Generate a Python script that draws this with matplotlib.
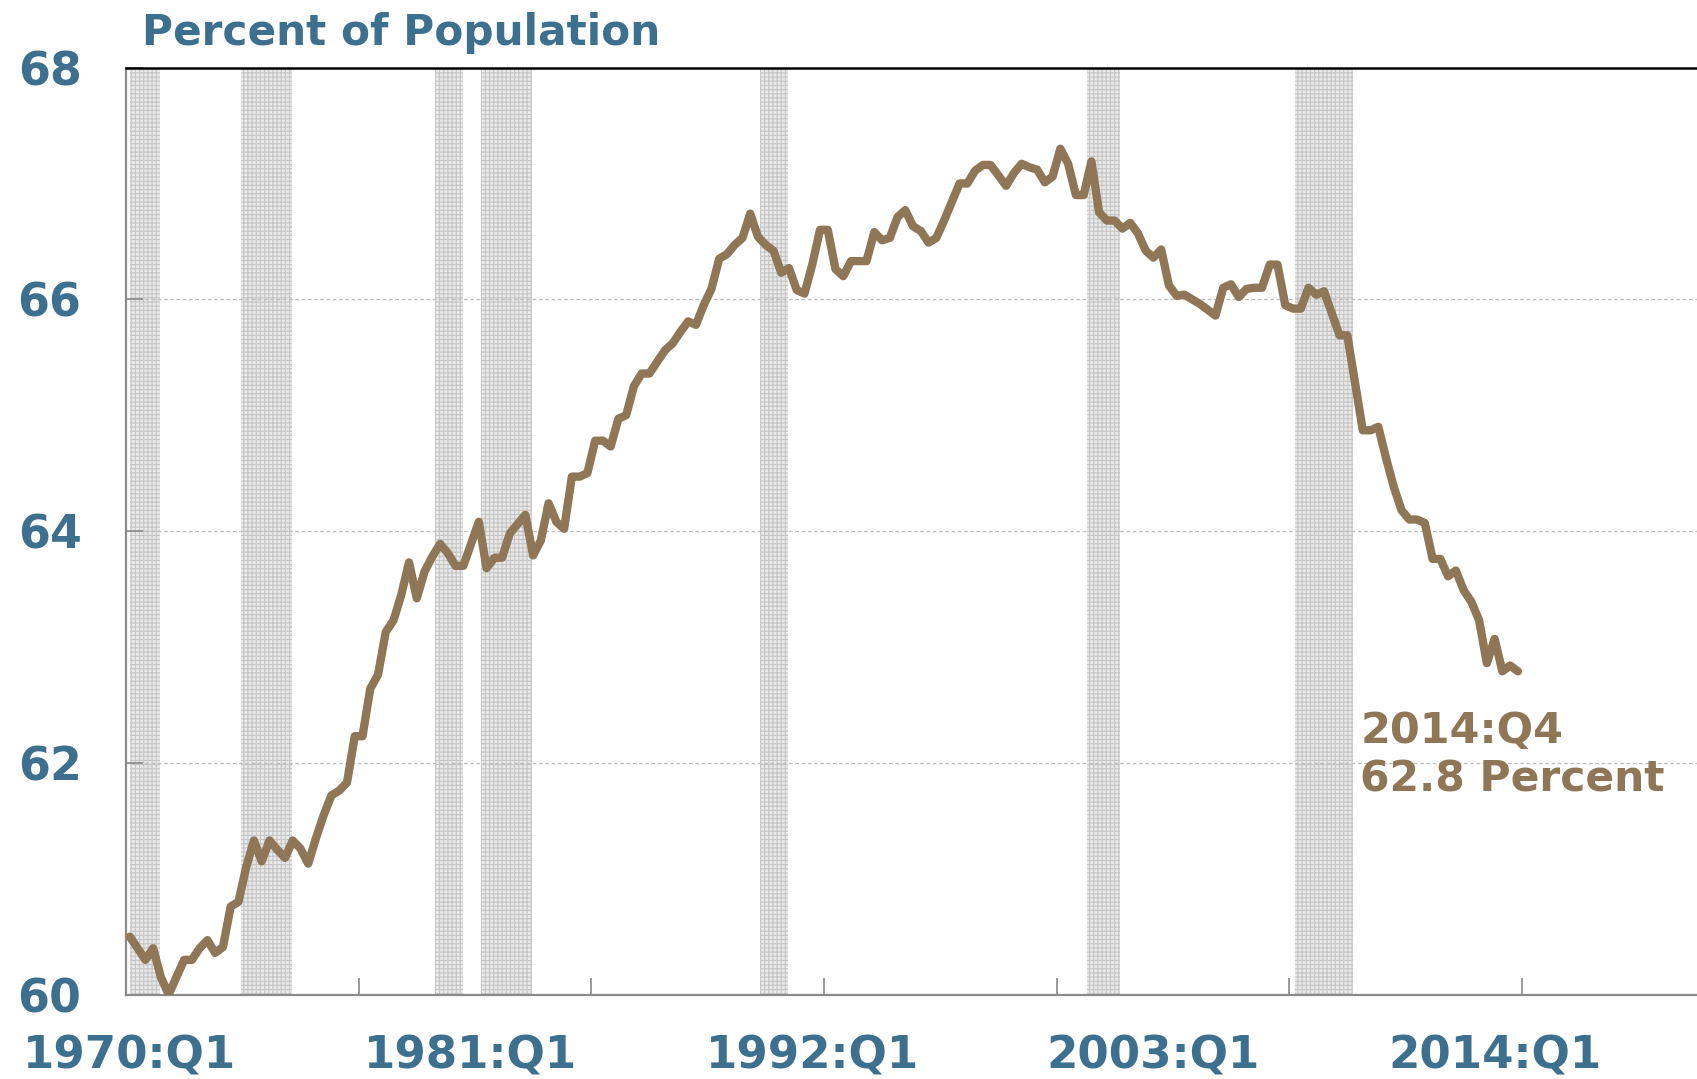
import numpy as np
import matplotlib
matplotlib.use("Agg")
import matplotlib.pyplot as plt

# labour force participation rate, quarterly, 1970:Q1 - 2014:Q4
quarters = [f"{y}:Q{q}" for y in range(1970, 2015) for q in range(1, 5)]
lfpr = [
    60.50, 60.40, 60.30, 60.40, 60.15, 60.00, 60.15, 60.30, 60.30, 60.40,
    60.47, 60.36, 60.41, 60.76, 60.80, 61.10, 61.33, 61.15, 61.33, 61.25,
    61.18, 61.33, 61.26, 61.13, 61.35, 61.55, 61.72, 61.76, 61.83, 62.23,
    62.23, 62.64, 62.76, 63.13, 63.23, 63.45, 63.73, 63.42, 63.65, 63.78,
    63.89, 63.81, 63.70, 63.70, 63.89, 64.08, 63.68, 63.77, 63.77, 63.98,
    64.06, 64.14, 63.79, 63.92, 64.24, 64.08, 64.02, 64.47, 64.47, 64.50,
    64.78, 64.78, 64.73, 64.97, 65.00, 65.25, 65.36, 65.36, 65.46, 65.56,
    65.62, 65.72, 65.81, 65.78, 65.95, 66.09, 66.35, 66.39, 66.47, 66.53,
    66.74, 66.54, 66.47, 66.42, 66.23, 66.27, 66.08, 66.05, 66.30, 66.60,
    66.60, 66.26, 66.20, 66.33, 66.33, 66.33, 66.58, 66.51, 66.53, 66.71,
    66.77, 66.63, 66.59, 66.49, 66.53, 66.68, 66.84, 67.00, 67.00, 67.11,
    67.16, 67.16, 67.07, 66.98, 67.09, 67.17, 67.14, 67.12, 67.01, 67.06,
    67.30, 67.17, 66.90, 66.90, 67.19, 66.75, 66.68, 66.68, 66.61, 66.66,
    66.57, 66.42, 66.36, 66.43, 66.12, 66.03, 66.04, 66.00, 65.96, 65.91,
    65.86, 66.10, 66.13, 66.02, 66.09, 66.10, 66.10, 66.30, 66.30, 65.95,
    65.92, 65.92, 66.10, 66.04, 66.07, 65.88, 65.69, 65.69, 65.28, 64.87,
    64.87, 64.90, 64.63, 64.38, 64.18, 64.10, 64.10, 64.07, 63.76, 63.76,
    63.61, 63.66, 63.49, 63.39, 63.23, 62.86, 63.07, 62.79, 62.84, 62.79,
]

# shaded recession bands, in quarters since 1970:Q1
recessions = [(0.0, 3.9), (14.3, 20.9), (39.3, 42.9), (45.3, 51.9),
              (81.3, 84.9), (123.4, 127.7), (150.2, 157.8)]

label_quarters = ["1970:Q1", "1981:Q1", "1992:Q1", "2003:Q1", "2014:Q1"]
y_ticks = [60, 62, 64, 66, 68]

blue = "#3d6f8f"
brown = "#8e7656"
grey = "#8a8a8a"

plt.rcParams["font.family"] = "DejaVu Sans"
plt.rcParams["font.weight"] = "bold"
plt.rcParams["hatch.linewidth"] = 0.8

W, H = 1697, 1079
fig = plt.figure(figsize=(W / 100, H / 100), dpi=100)
ax = fig.add_axes([126 / W, 1 - 994.6 / H, 1 - 126 / W, (994.6 - 67.6) / H])

x = np.arange(len(lfpr))

for a, b in recessions:
    ax.axvspan(a, b, facecolor="#e9e9e9", edgecolor="#c6c6c6", hatch="++++",
               lw=0, zorder=0.5)

ax.plot(x, lfpr, color=brown, lw=6, solid_joinstyle="round",
        solid_capstyle="round", zorder=3)

ax.set_xlim(-0.5, 202.1)
ax.set_ylim(60, 68)

# tick marks every 30 quarters, labels every 11 years
ax.set_xticks(np.arange(-0.5, 200, 30))
ax.set_xticklabels([])
ax.set_xticks([quarters.index(q) for q in label_quarters], minor=True)
ax.set_xticklabels(label_quarters, minor=True)
ax.set_yticks(y_ticks)
ax.set_yticklabels([str(v) for v in y_ticks])

ax.tick_params(axis="both", which="major", direction="in", length=12,
               width=1.2, color=grey)
ax.tick_params(axis="y", labelsize=33, labelcolor=blue, pad=32)
ax.tick_params(axis="x", which="minor", length=0, pad=29, labelsize=32.5,
               labelcolor=blue)

ax.yaxis.grid(True, ls=(0, (3, 2)), color="#bfbfbf", lw=0.9, zorder=1)

ax.spines["right"].set_visible(False)
ax.spines["top"].set_color("black")
ax.spines["top"].set_linewidth(1.8)
for s in ["left", "bottom"]:
    ax.spines[s].set_color(grey)
    ax.spines[s].set_linewidth(1.6)

fig.text(142 / W, 1 - 45.5 / H, "Percent of Population", color=blue,
         fontsize=30.4, va="baseline", ha="left")

ax.text(158.7, 62.17, quarters[-1], color=brown, fontsize=31, va="baseline")
ax.text(158.7, 61.75, f"{lfpr[-1]:.1f} Percent", color=brown, fontsize=30.5,
        va="baseline")

fig.savefig("out.png", dpi=100)
